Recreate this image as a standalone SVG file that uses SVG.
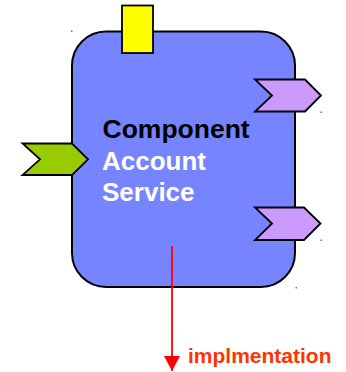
<svg xmlns="http://www.w3.org/2000/svg" width="346" height="372" viewBox="0 0 346 372">
  <style>
    .port { stroke: #000; stroke-width: 1.8; stroke-linejoin: miter; }
    .label { font-family: "Liberation Sans", Arial, sans-serif; font-weight: bold; }
    .handle { fill: #777; }
  </style>
  <defs>
    <marker id="arrowhead" viewBox="0 0 16 16" refX="15" refY="8" markerWidth="16" markerHeight="16" markerUnits="userSpaceOnUse" orient="auto">
      <path d="M0,0 L15,8 L0,16 Z" fill="#FF0000"/>
    </marker>
  </defs>
  <rect width="346" height="372" fill="#FFFFFF"/>

  <!-- component body -->
  <g id="component">
    <rect x="72" y="31.5" width="223" height="255.5" rx="34" ry="34" fill="#7685FF" stroke="#000" stroke-width="2"/>
    <text class="label" x="102.5" y="137.5" font-size="26.5" fill="#000">Component</text>
    <text class="label" x="102" y="169.5" font-size="26" fill="#FFFFFF">Account</text>
    <text class="label" x="102" y="201" font-size="26" fill="#FFFFFF">Service</text>
  </g>

  <!-- property port on top -->
  <g id="property">
    <rect x="122" y="5.5" width="31" height="47.5" fill="#FFFF00" stroke="#000" stroke-width="1.8"/>
  </g>

  <!-- service port on the left -->
  <g id="service">
    <polygon class="port" points="22.5,143.5 72,143.5 88,159.3 72,175 22.5,175 40,159.3" fill="#99CC00"/>
  </g>

  <!-- reference ports on the right -->
  <g id="reference-1">
    <polygon class="port" points="255,79.5 305,79.5 321,95.5 305,111.5 255,111.5 272,95.5" fill="#CC99FF"/>
  </g>
  <g id="reference-2">
    <polygon class="port" points="255,207.5 304,207.5 320.5,223.5 304,240 255,240 272,223.5" fill="#CC99FF"/>
  </g>

  <!-- selection handles -->
  <g id="handles">
    <rect class="handle" x="71" y="30.5" width="1.5" height="1.5"/>
    <rect class="handle" x="320.5" y="111.5" width="1.5" height="1.5"/>
    <rect class="handle" x="320.5" y="239.5" width="1.5" height="1.5"/>
    <rect class="handle" x="295.5" y="287" width="1.5" height="1.5"/>
    <rect class="handle" x="87" y="175" width="1.5" height="1.5"/>
  </g>

  <!-- implementation link -->
  <g id="connectors">
    <line x1="172" y1="246" x2="172" y2="371" stroke="#FF0000" stroke-width="1.8" marker-end="url(#arrowhead)"/>
  </g>
  <g id="implementation-label">
    <text class="label" x="188" y="363" font-size="21" fill="#FF3300">implmentation</text>
  </g>
</svg>
